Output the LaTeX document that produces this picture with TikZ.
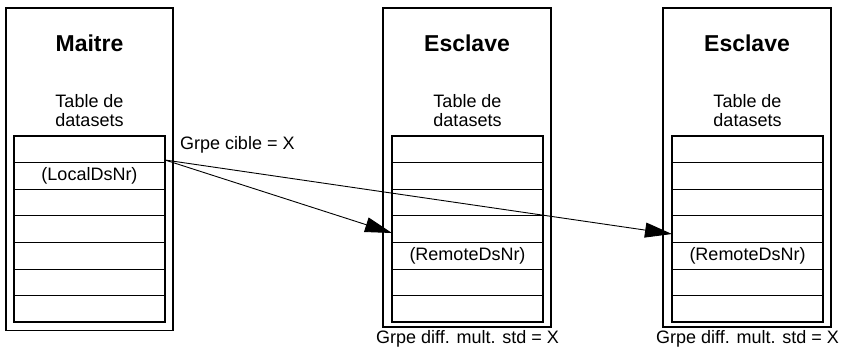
\documentclass[tikz,border=0pt]{standalone}
\usepackage{fontspec}
\setmainfont{Liberation Sans}
\usetikzlibrary{arrows.meta,calc}
\tikzset{
  every node/.style={font=\fontsize{18}{19}\selectfont,inner sep=0pt,outer sep=0pt},
  head/.style={font=\bfseries\fontsize{23}{26}\selectfont},
  frame/.style={draw,line width=1.8pt,minimum width=167pt},
  dstable/.style={draw,line width=1.8pt,minimum width=151pt,minimum height=186pt},
  rowline/.style={line width=.9pt},
  link/.style={-{Triangle[length=27pt,width=15pt]},line width=.9pt},
}
% table of datasets: 7 rows
\newcommand{\dstab}[2]{%
  \node[dstable] (#1) at (#2,229) {};
  \draw[rowline] (#1.north west) ++(0,26.6) -- ++(151,0);
  \draw[rowline] (#1.north west) ++(0,53.2) -- ++(151,0);
  \draw[rowline] (#1.north west) ++(0,79.8) -- ++(151,0);
  \draw[rowline] (#1.north west) ++(0,106.4) -- ++(151,0);
  \draw[rowline] (#1.north west) ++(0,133) -- ++(151,0);
  \draw[rowline] (#1.north west) ++(0,159.6) -- ++(151,0);
}
\begin{document}
\begin{tikzpicture}[x=1pt,y=-1pt]
\path[use as bounding box] (0,0) rectangle (846,349);
% master
\node[frame,minimum height=322.5pt] (maitre) at (89.5,169.25) {};
\node[head,anchor=base] (maitrehead) at (89.5,51.7) {Maitre};
\node[anchor=north,align=center] (maitrecap) at (89.5,94) {Table de\\datasets};
\dstab{mtab}{89.5}
\node (localnr) at (89.5,175.5) {(LocalDsNr)};
\node[anchor=base west] (cible) at (180,149.5) {Grpe cible = X};
% first slave
\node[frame,minimum width=168pt,minimum height=319pt] (esclA) at (467,167.5) {};
\node[head,anchor=base] (esclAhead) at (467,51) {Esclave};
\node[anchor=north,align=center] (esclAcap) at (467.5,94) {Table de\\datasets};
\dstab{atab}{467.5}
\node (remoteA) at (467.5,256) {(RemoteDsNr)};
\node[anchor=base] (diffA) at (467.5,343.5) {Grpe diff. mult. std = X};
% second slave
\node[frame,minimum width=168pt,minimum height=319pt] (esclB) at (747,167.5) {};
\node[head,anchor=base] (esclBhead) at (747,51) {Esclave};
\node[anchor=north,align=center] (esclBcap) at (747.5,94) {Table de\\datasets};
\dstab{btab}{747.5}
\node (remoteB) at (747.5,256) {(RemoteDsNr)};
\node[anchor=base] (diffB) at (747.5,343.5) {Grpe diff. mult. std = X};
% links
\coordinate (src) at ($(mtab.north east)+(0,24)$);
\coordinate (dstA) at ($(atab.north west)+(0,97)$);
\coordinate (dstB) at ($(btab.north west)+(0,98)$);
\draw[link] (src) -- (dstA);
\draw[link] (src) -- (dstB);
\end{tikzpicture}
\end{document}
